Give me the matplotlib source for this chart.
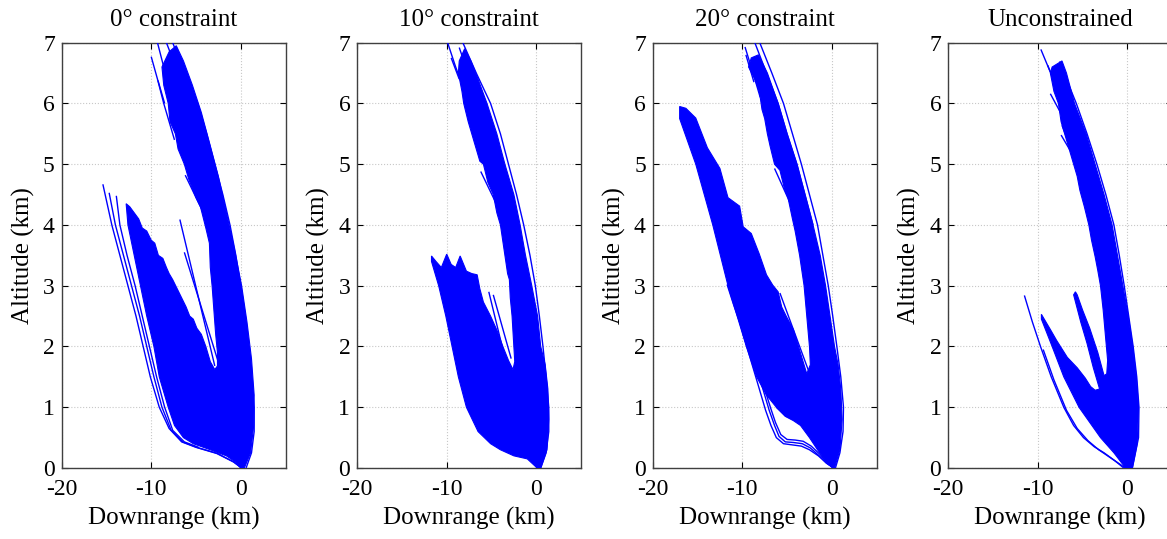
import matplotlib
matplotlib.use("Agg")
import matplotlib.pyplot as plt

plt.rcParams["font.family"] = ["Liberation Serif", "DejaVu Serif"]
plt.rcParams["axes.unicode_minus"] = False

TITLES = ["0° constraint", "10° constraint", "20° constraint", "Unconstrained"]
BLUE = "#0000ff"

# dense envelope of the trajectory bundle, (downrange km, altitude km)
p1_fill = [(0.4, 0.0), (1.1, 0.25), (1.45, 0.7), (1.5, 1.2), (1.2, 1.8), (0.7, 2.4), (0.1, 3.0),
           (-0.7, 3.6), (-1.6, 4.2), (-2.5, 4.8), (-3.4, 5.3), (-4.4, 5.85), (-5.4, 6.3), (-6.4, 6.7),
           (-7.2, 6.95), (-8.0, 6.85), (-8.8, 6.6), (-8.6, 6.3), (-8.1, 6.0), (-7.9, 5.7), (-7.3, 5.5),
           (-7.0, 5.25), (-6.3, 5.0), (-5.8, 4.75), (-5.0, 4.45), (-4.5, 4.3), (-3.9, 3.95), (-3.5, 3.7),
           (-3.4, 3.3), (-3.2, 3.0), (-3.0, 2.6), (-2.8, 2.2), (-2.6, 1.9), (-2.6, 1.68), (-2.9, 1.62),
           (-3.4, 1.75), (-3.9, 2.0), (-4.4, 2.2), (-4.9, 2.3), (-5.3, 2.45), (-5.7, 2.5), (-6.1, 2.65),
           (-6.6, 2.8), (-7.1, 2.95), (-7.6, 3.1), (-8.0, 3.2), (-8.3, 3.3), (-8.7, 3.45), (-9.2, 3.5),
           (-9.6, 3.7), (-10.0, 3.75), (-10.5, 3.9), (-11.0, 3.95), (-11.4, 4.1), (-11.9, 4.2),
           (-12.4, 4.3), (-12.8, 4.35), (-12.6, 4.0), (-11.9, 3.5), (-11.2, 3.0), (-10.5, 2.5),
           (-9.7, 2.0), (-9.1, 1.5), (-8.1, 1.0), (-7.4, 0.7), (-6.4, 0.5), (-5.3, 0.4), (-3.4, 0.3),
           (-1.6, 0.2), (-0.6, 0.1), (0.0, 0.0)]

p2_fill = [(0.5, 0.0), (1.2, 0.3), (1.4, 0.8), (1.3, 1.3), (1.0, 1.7), (0.5, 2.0), (0.15, 2.5),
           (-0.5, 3.0), (-1.2, 3.5), (-1.8, 4.0), (-2.5, 4.5), (-3.5, 5.0), (-4.4, 5.5), (-5.5, 6.0),
           (-6.5, 6.4), (-7.3, 6.7), (-8.0, 6.9), (-8.6, 6.7), (-8.7, 6.5), (-8.3, 6.2), (-8.1, 6.0),
           (-7.6, 5.7), (-7.2, 5.5), (-6.8, 5.3), (-6.3, 5.05), (-5.9, 5.0), (-5.4, 4.7), (-4.8, 4.5),
           (-4.4, 4.2), (-4.0, 4.0), (-3.6, 3.6), (-3.2, 3.2), (-3.0, 3.1), (-2.9, 2.8), (-2.7, 2.5),
           (-2.5, 2.0), (-2.4, 1.75), (-2.6, 1.62), (-3.1, 1.77), (-3.7, 1.99), (-4.4, 2.27),
           (-5.1, 2.5), (-5.9, 2.73), (-6.3, 2.95), (-6.6, 3.18), (-7.2, 3.2), (-7.8, 3.24),
           (-8.5, 3.49), (-9.0, 3.3), (-9.5, 3.35), (-10.0, 3.52), (-10.6, 3.3), (-11.2, 3.4),
           (-11.7, 3.49), (-11.7, 3.4), (-10.9, 3.0), (-10.1, 2.5), (-9.4, 2.0), (-8.7, 1.5),
           (-7.8, 1.0), (-6.5, 0.6), (-5.1, 0.4), (-4.0, 0.3), (-2.5, 0.2), (-1.0, 0.15), (0.1, 0.0)]

p3_fill = [(0.3, 0.0), (0.9, 0.3), (1.15, 0.8), (1.0, 1.3), (0.7, 1.7), (0.3, 2.0), (-0.2, 2.5),
           (-0.7, 3.0), (-1.3, 3.5), (-2.1, 4.0), (-3.0, 4.5), (-3.9, 5.0), (-5.0, 5.5), (-6.0, 6.0),
           (-7.2, 6.5), (-8.2, 6.8), (-9.0, 6.75), (-9.3, 6.6), (-8.6, 6.4), (-8.1, 6.2), (-7.8, 5.9),
           (-7.5, 5.75), (-7.2, 5.5), (-6.9, 5.3), (-6.4, 5.0), (-5.8, 4.9), (-5.3, 4.6), (-4.9, 4.45),
           (-4.4, 4.1), (-4.1, 3.9), (-3.6, 3.5), (-3.1, 3.0), (-2.8, 2.5), (-2.5, 2.0), (-2.4, 1.7),
           (-2.8, 1.55), (-3.6, 1.94), (-4.3, 2.28), (-5.1, 2.5), (-5.6, 2.65), (-6.0, 2.9),
           (-6.6, 3.01), (-7.3, 3.18), (-8.1, 3.52), (-9.0, 3.86), (-9.9, 3.97), (-10.3, 4.31),
           (-11.6, 4.45), (-12.5, 4.93), (-13.9, 5.27), (-15.2, 5.76), (-16.3, 5.92), (-17.0, 5.95),
           (-17.0, 5.75), (-15.2, 5.0), (-13.3, 4.0), (-11.6, 3.0), (-9.55, 2.0), (-8.4, 1.5),
           (-7.3, 1.2), (-6.2, 1.0), (-5.2, 0.85), (-4.3, 0.78), (-3.5, 0.7), (-2.5, 0.5),
           (-1.6, 0.3), (-0.6, 0.1), (0.1, 0.0)]

p4_fill = [(0.56, 0.0), (1.1, 0.4), (1.25, 1.0), (1.0, 1.5), (0.6, 2.0), (0.1, 2.5), (-0.5, 3.0),
           (-1.1, 3.5), (-1.7, 4.0), (-2.6, 4.5), (-3.6, 5.0), (-4.6, 5.5), (-5.9, 6.0), (-6.8, 6.5),
           (-7.3, 6.7), (-8.4, 6.6), (-8.6, 6.5), (-8.2, 6.2), (-7.7, 6.0), (-7.4, 5.7), (-6.8, 5.4),
           (-6.4, 5.2), (-6.0, 5.0), (-5.6, 4.8), (-5.3, 4.57), (-4.8, 4.3), (-4.3, 4.0), (-4.0, 3.75),
           (-3.6, 3.48), (-3.3, 3.25), (-3.0, 3.0), (-2.7, 2.6), (-2.4, 2.1), (-2.2, 1.77), (-2.3, 1.55),
           (-2.6, 1.52), (-3.3, 1.9), (-4.2, 2.3), (-5.0, 2.6), (-5.6, 2.85), (-5.8, 2.9), (-6.0, 2.85),
           (-5.2, 2.4), (-4.5, 2.05), (-3.8, 1.65), (-3.3, 1.4), (-3.1, 1.3), (-3.6, 1.28), (-4.1, 1.34),
           (-4.7, 1.48), (-5.6, 1.65), (-6.7, 1.82), (-7.9, 2.1), (-8.6, 2.28), (-9.6, 2.53),
           (-9.6, 2.45), (-8.4, 2.0), (-7.1, 1.5), (-5.4, 1.0), (-3.0, 0.5), (-1.5, 0.25), (-0.2, 0.0)]

# individual trajectories that stand apart from the bundle
p1_lines = [
    [(-7.6, 7.0), (-6.3, 6.5), (-4.8, 6.0), (-3.8, 5.5), (-2.9, 5.0), (-2.0, 4.5), (-1.2, 4.0),
     (-0.55, 3.5), (0.0, 3.0), (0.5, 2.5), (0.86, 2.0), (1.2, 1.5), (1.5, 1.0), (1.5, 0.6),
     (1.2, 0.25), (0.6, 0.0)],
    [(-8.3, 7.0), (-7.0, 6.5), (-5.4, 6.0), (-4.4, 5.5), (-3.4, 5.0), (-2.5, 4.5), (-1.7, 4.0),
     (-1.0, 3.5), (-0.45, 3.0)],
    [(-9.3, 7.0), (-8.6, 6.6), (-8.0, 6.2)],
    [(-10.0, 6.77), (-9.3, 6.4), (-8.6, 6.0), (-7.4, 5.4)],
    [(-9.25, 6.38), (-8.5, 6.0)],
    [(-6.2, 4.82), (-2.7, 3.75)],
    [(-6.8, 4.09), (-2.9, 1.68)],
    [(-6.3, 3.55), (-2.5, 1.74)],
    [(-15.4, 4.67), (-14.4, 4.0), (-13.5, 3.5), (-12.6, 3.0), (-11.7, 2.5), (-10.9, 2.0),
     (-10.1, 1.5), (-9.1, 1.0), (-8.0, 0.65), (-6.6, 0.43), (-5.0, 0.34), (-2.7, 0.24),
     (-0.8, 0.1), (0.1, 0.0)],
    [(-14.7, 4.53), (-14.0, 4.0), (-13.1, 3.5), (-12.2, 3.0), (-11.3, 2.5), (-10.5, 2.0),
     (-9.7, 1.5), (-8.8, 1.0), (-7.8, 0.63), (-6.5, 0.43), (-4.9, 0.34), (-2.6, 0.24),
     (-0.8, 0.1), (0.1, 0.0)],
    [(-13.9, 4.48), (-13.5, 4.0), (-12.7, 3.5), (-11.8, 3.0), (-11.0, 2.5), (-10.2, 2.0),
     (-9.4, 1.5), (-8.5, 1.0), (-7.6, 0.62), (-6.3, 0.43), (-4.7, 0.34)],
]

p2_lines = [
    [(-8.2, 7.0), (-6.7, 6.5), (-5.1, 6.0), (-4.0, 5.5), (-3.1, 5.0), (-2.2, 4.5), (-1.4, 4.0),
     (-0.7, 3.5), (-0.1, 3.0), (0.35, 2.5), (0.75, 2.0), (1.1, 1.5), (1.4, 1.0), (1.4, 0.6),
     (1.1, 0.25), (0.5, 0.0)],
    [(-8.6, 6.92), (-7.4, 6.4), (-6.0, 5.9), (-4.9, 5.4), (-3.9, 4.9)],
    [(-9.9, 7.0), (-9.0, 6.6), (-8.0, 6.2)],
    [(-9.5, 6.75), (-8.6, 6.4)],
    [(-6.2, 4.88), (-4.3, 4.3)],
    [(-5.3, 2.9), (-2.9, 1.45)],
    [(-4.8, 2.85), (-2.8, 1.8)],
]

p3_lines = [
    [(-8.05, 7.0), (-6.7, 6.5), (-5.4, 6.0), (-4.4, 5.5), (-3.4, 5.0), (-2.5, 4.5), (-1.6, 4.0),
     (-1.0, 3.5), (-0.4, 3.0), (0.1, 2.5), (0.56, 2.0), (1.0, 1.5), (1.3, 1.0), (1.25, 0.6),
     (0.9, 0.25), (0.4, 0.0)],
    [(-8.6, 7.0), (-7.3, 6.5), (-6.0, 6.0), (-5.0, 5.5), (-3.9, 5.0), (-3.0, 4.5), (-2.1, 4.0)],
    [(-9.7, 6.93), (-8.8, 6.5), (-8.0, 6.1)],
    [(-9.6, 6.8), (-8.7, 6.35)],
    [(-6.4, 4.93), (-4.5, 4.31)],
    [(-5.8, 2.88), (-2.6, 1.6)],
    [(-11.7, 3.02), (-11.0, 2.7), (-10.3, 2.4), (-9.5, 2.0), (-8.7, 1.6), (-8.0, 1.25),
     (-7.4, 0.95), (-6.8, 0.7), (-6.2, 0.5), (-5.4, 0.4), (-4.4, 0.38), (-3.4, 0.36),
     (-2.5, 0.3), (-1.5, 0.2), (-0.6, 0.08), (0.2, 0.0)],
    [(-11.1, 3.08), (-10.4, 2.7), (-9.8, 2.4), (-9.1, 2.0), (-8.3, 1.6), (-7.6, 1.25),
     (-7.0, 0.95), (-6.4, 0.7), (-5.9, 0.52), (-5.2, 0.43), (-4.3, 0.42), (-3.3, 0.4),
     (-2.4, 0.33), (-1.4, 0.2), (-0.6, 0.08), (0.2, 0.0)],
    [(-10.9, 3.0), (-10.2, 2.65), (-9.6, 2.35), (-8.9, 2.0), (-8.1, 1.6), (-7.4, 1.25),
     (-6.8, 0.97), (-6.3, 0.75), (-5.7, 0.55), (-5.0, 0.47), (-4.1, 0.46), (-3.2, 0.44),
     (-2.3, 0.36), (-1.3, 0.22), (-0.5, 0.08), (0.2, 0.0)],
    [(-6.2, 1.0), (-5.2, 0.86), (-3.9, 0.77)],
]

p4_lines = [
    [(-7.58, 6.69), (-6.8, 6.4), (-5.7, 6.0), (-4.5, 5.5), (-3.4, 5.0), (-2.4, 4.5), (-1.5, 4.0),
     (-0.9, 3.5), (-0.35, 3.0), (0.15, 2.5), (0.65, 2.0), (1.05, 1.5), (1.3, 1.0), (1.25, 0.5),
     (0.56, 0.0)],
    [(-9.66, 6.89), (-8.7, 6.55), (-7.7, 6.22)],
    [(-8.9, 6.63), (-8.0, 6.3)],
    [(-8.6, 6.16), (-7.1, 5.75)],
    [(-7.3, 5.64), (-6.2, 5.23)],
    [(-7.4, 5.48), (-6.4, 5.23)],
    [(-11.5, 2.84), (-10.6, 2.4), (-9.7, 2.0), (-8.5, 1.5), (-7.1, 1.0), (-6.0, 0.7),
     (-4.9, 0.5), (-3.7, 0.35), (-2.6, 0.25), (-1.4, 0.12), (-0.4, 0.0)],
    [(-9.4, 1.95), (-8.2, 1.45), (-6.8, 0.95), (-5.6, 0.65), (-4.4, 0.45), (-3.2, 0.3),
     (-2.0, 0.18), (-0.9, 0.07), (-0.2, 0.0)],
]

fills = [p1_fill, p2_fill, p3_fill, p4_fill]
lines = [p1_lines, p2_lines, p3_lines, p4_lines]
lefts = [61.7, 357.2, 652.8, 948.3]  # axes left edges, px

W, H = 1167, 539
fig = plt.figure(figsize=(W / 100, H / 100), dpi=100)

for i in range(4):
    ax = fig.add_axes([lefts[i] / W, (H - 468) / H, 223.8 / W, 425.3 / H])
    fx, fy = zip(*fills[i])
    ax.fill(fx, fy, color=BLUE, lw=0.8, ec=BLUE, zorder=3)
    for ln in lines[i]:
        lx, ly = zip(*ln)
        ax.plot(lx, ly, color=BLUE, lw=1.0, zorder=3, solid_capstyle="butt")

    ax.set_xlim(-20, 5)
    ax.set_ylim(0, 7)
    ax.set_xticks([-20, -10, 0])
    ax.set_yticks(range(8))
    ax.grid(True, color="#c8c8c8", ls=":", lw=0.8)
    ax.tick_params(direction="in", top=True, right=True, labelsize=17, length=4)
    ax.tick_params(axis="x", pad=8)
    ax.tick_params(axis="y", pad=5)
    for s in ax.spines.values():
        s.set_color("#404040")
        s.set_linewidth(1.0)
    ax.set_title(TITLES[i], fontsize=18, pad=12)
    ax.set_xlabel("Downrange (km)", fontsize=18, labelpad=5)
    ax.set_ylabel("Altitude (km)", fontsize=18, labelpad=6)

fig.savefig("out.png", dpi=100)
